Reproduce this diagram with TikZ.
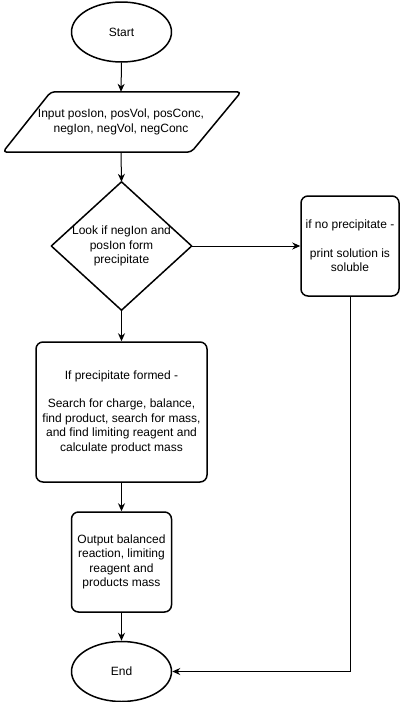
\documentclass[tikz,border=0pt]{standalone}
\usepackage{fontspec}
\setmainfont{Liberation Sans}
\usetikzlibrary{shapes.geometric,arrows.meta}
\begin{document}
\begin{tikzpicture}[x=1pt,y=-1pt,
  every node/.style={font=\fontsize{12}{14.4}\selectfont, align=center, inner sep=0pt},
  shapeline/.style={draw=black, line width=1.5pt, line join=round},
  term/.style={shapeline, ellipse, minimum width=100pt, minimum height=60pt},
  procbox/.style={shapeline, rectangle, rounded corners=7pt},
  flow/.style={draw=black, line width=1pt, -{Stealth[length=8pt,width=7pt]}}
]
\useasboundingbox (0,0) rectangle (402,702);

% Start
\node[term] (start) at (121.5,32) {Start};

% Input parallelogram
\node[minimum width=240pt, minimum height=60pt] (in) at (121,122) {Input posIon, posVol, posConc,\\negIon, negVol, negConc};
\draw[shapeline, rounded corners=4pt] ([xshift=2pt]in.south west) -- ([xshift=-50pt]in.south east) -- (in.north east) -- ([xshift=50pt]in.north west) -- cycle;

% Decision diamond
\node[minimum width=140pt, minimum height=128pt] (dec) at (121.5,246) {Look if negIon and\\posIon form\\precipitate};
\draw[shapeline] (dec.north) -- (dec.east) -- (dec.south) -- (dec.west) -- cycle;

% No precipitate box
\node[procbox, minimum width=98pt, minimum height=100pt] (nop) at (350,246) {if no precipitate -\\[14.4pt]print solution is\\soluble};

% Precipitate formed box
\node[procbox, minimum width=171pt, minimum height=140pt] (yes) at (121.5,412) {If precipitate formed -\\[14.4pt]Search for charge, balance,\\find product, search for mass,\\and find limiting reagent and\\calculate product mass};

% Output box
\node[procbox, minimum width=100pt, minimum height=100pt] (out) at (121.5,562) {Output balanced\\reaction, limiting\\reagent and\\products mass};

% End
\node[term] (end) at (121.5,671.5) {End};

% Connectors
\draw[flow] (start.south) -- (in.north);
\draw[flow] (in.south) -- (dec.north);
\draw[flow] (dec.east) -- (nop.west);
\draw[flow] (dec.south) -- (yes.north);
\draw[flow] (yes.south) -- (out.north);
\draw[flow] (out.south) -- (end.north);
\draw[flow] (nop.south) |- (end.east);
\end{tikzpicture}
\end{document}
